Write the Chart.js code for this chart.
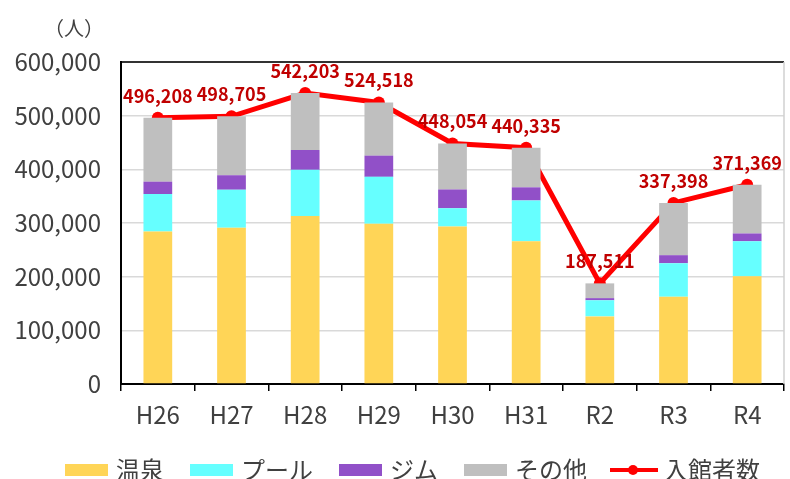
<!DOCTYPE html>
<html lang="ja">
<head>
<meta charset="utf-8">
<script src="https://cdn.jsdelivr.net/npm/chart.js@4.4.0/dist/chart.umd.min.js"></script>
<style>
  html, body { margin: 0; padding: 0; background: #fff; }
  #wrap { width: 790px; height: 479px; }
</style>
</head>
<body>
<div id="wrap"><canvas id="myChart"></canvas></div>
<script>
const years = ["H26", "H27", "H28", "H29", "H30", "H31", "R2", "R3", "R4"];
const onsen = [284000, 291000, 313000, 298500, 293500, 266000, 126000, 162500, 201000];
const pool = [70000, 71000, 86000, 87500, 34000, 76000, 30000, 62500, 65000];
const gym = [23000, 27000, 37000, 39500, 35000, 24500, 4000, 15000, 14500];
const other = [119208, 109705, 106203, 99018, 85554, 73835, 27511, 97398, 90869];
const visitors = [496208, 498705, 542203, 524518, 448054, 440335, 187511, 337398, 371369];
const yMax = 600000;
const yStep = 100000;

const colors = ["#FFD557", "#66FFFF", "#9150C8", "#BFBFBF", "#FF0000"];
const font = "'Noto Sans CJK JP', 'Noto Sans', sans-serif";
const textColor = "#404040";

// legend markers drawn as small images
function boxMarker(color) {
  const c = document.createElement("canvas");
  c.width = 43;
  c.height = 12;
  const g = c.getContext("2d");
  g.fillStyle = color;
  g.fillRect(0, 0, 43, 12);
  return c;
}
function lineMarker(color) {
  const c = document.createElement("canvas");
  c.width = 48;
  c.height = 12;
  const g = c.getContext("2d");
  g.strokeStyle = color;
  g.lineWidth = 4;
  g.beginPath();
  g.moveTo(0, 6);
  g.lineTo(48, 6);
  g.stroke();
  g.fillStyle = color;
  g.beginPath();
  g.arc(23, 6, 5, 0, Math.PI * 2);
  g.fill();
  return c;
}
const markers = [
  boxMarker(colors[0]),
  boxMarker(colors[1]),
  boxMarker(colors[2]),
  boxMarker(colors[3]),
  lineMarker(colors[4]),
];

const extras = {
  id: "extras",
  afterDraw(chart) {
    const { ctx, chartArea } = chart;
    ctx.save();
    // right border
    ctx.strokeStyle = "#D0D0D0";
    ctx.lineWidth = 1.5;
    ctx.beginPath();
    ctx.moveTo(chartArea.right, chartArea.top);
    ctx.lineTo(chartArea.right, chartArea.bottom);
    ctx.stroke();
    // unit
    ctx.fillStyle = textColor;
    ctx.font = "20px " + font;
    ctx.textAlign = "right";
    ctx.textBaseline = "middle";
    ctx.fillText("（人）", 104, 28);
    // value labels on line
    const meta = chart.getDatasetMeta(4);
    ctx.fillStyle = "#C00000";
    ctx.font = "bold 18px " + font;
    ctx.textAlign = "center";
    meta.data.forEach((pt, i) => {
      ctx.fillText(visitors[i].toLocaleString("en-US"), pt.x, pt.y - 22);
    });
    ctx.restore();
  },
};

new Chart(document.getElementById("myChart"), {
  type: "bar",
  data: {
    labels: years,
    datasets: [
      { label: "温泉", data: onsen, backgroundColor: colors[0], stack: "a" },
      { label: "プール", data: pool, backgroundColor: colors[1], stack: "a" },
      { label: "ジム", data: gym, backgroundColor: colors[2], stack: "a" },
      { label: "その他", data: other, backgroundColor: colors[3], stack: "a" },
      {
        type: "line",
        label: "入館者数",
        data: visitors,
        stack: "line",
        borderColor: colors[4],
        backgroundColor: colors[4],
        borderWidth: 5,
        pointRadius: 6,
        pointHoverRadius: 6,
        pointBackgroundColor: colors[4],
        pointBorderWidth: 0,
        tension: 0,
      },
    ],
  },
  options: {
    responsive: true,
    maintainAspectRatio: false,
    animation: false,
    datasets: {
      bar: { categoryPercentage: 1, barPercentage: 0.39 },
    },
    layout: { padding: { top: 62, right: 1, left: 0, bottom: -13 } },
    scales: {
      x: {
        stacked: true,
        grid: {
          drawOnChartArea: false,
          offset: true,
          tickLength: 7,
          color: "#000",
          lineWidth: 1.5,
        },
        border: { color: "#000", width: 2 },
        ticks: { color: textColor, font: { family: font, size: 24 }, padding: 9 },
        afterFit(scale) { scale.height = 45; },
      },
      y: {
        stacked: true,
        min: 0,
        max: yMax,
        grid: {
          drawTicks: false,
          color: (c) => (c.tick && c.tick.value === yMax ? "#333333" : "#D9D9D9"),
          lineWidth: (c) => (c.tick && c.tick.value === yMax ? 2 : 1.5),
        },
        border: { color: "#000", width: 2 },
        ticks: {
          stepSize: yStep,
          color: textColor,
          font: { family: font, size: 24 },
          padding: 20,
          callback: (v) => v.toLocaleString("en-US"),
        },
        afterFit(scale) { scale.width = 121; },
      },
    },
    plugins: {
      legend: {
        position: "bottom",
        align: "end",
        labels: {
          usePointStyle: true,
          pointStyleWidth: 36,
          boxHeight: 12,
          padding: 29,
          color: textColor,
          font: { family: font, size: 24 },
          generateLabels(chart) {
            const items = Chart.defaults.plugins.legend.labels.generateLabels(chart);
            items.forEach((it) => {
              it.pointStyle = markers[it.datasetIndex];
              it.lineWidth = 0;
            });
            return items;
          },
        },
      },
      tooltip: { enabled: false },
    },
  },
  plugins: [extras],
});
</script>
</body>
</html>
